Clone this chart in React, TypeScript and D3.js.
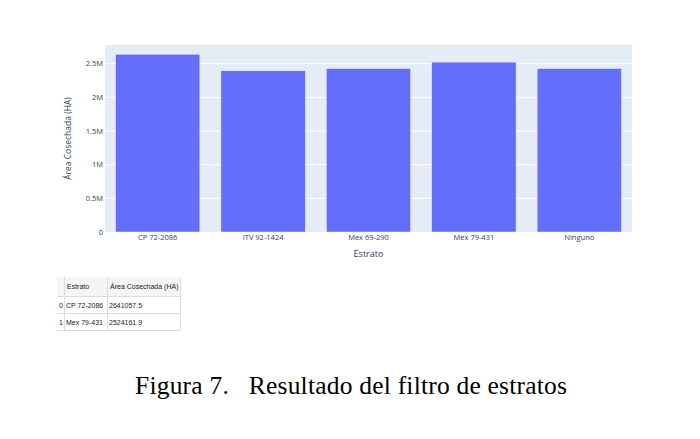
import React, { useEffect, useRef } from 'react';
import * as d3 from 'd3';

const categories = ['CP 72-2086', 'ITV 92-1424', 'Mex 69-290', 'Mex 79-431', 'Ninguno'];
const areaValues = [2641057.5, 2395000, 2428000, 2524161.9, 2428000];
const yTicks = [0, 500000, 1000000, 1500000, 2000000, 2500000];
const yTickLabels = ['0', '0.5M', '1M', '1.5M', '2M', '2.5M'];

const tableHeaders = ['', 'Estrato', 'Área Cosechada (HA)'];
const tableIndex = ['0', '1'];
const tableEstrato = ['CP 72-2086', 'Mex 79-431'];
const tableArea = ['2641057.5', '2524161.9'];

const App: React.FC = () => {
  const svgRef = useRef<SVGSVGElement>(null);

  useEffect(() => {
    if (!svgRef.current) return;
    const svg = d3.select(svgRef.current);
    svg.selectAll('*').remove();

    const font = '"Open Sans", verdana, arial, sans-serif';
    const left = 105, right = 632, top = 45, bottom = 232;

    const x = d3.scaleBand<string>()
      .domain(categories)
      .range([left, right])
      .paddingInner(0.2)
      .paddingOuter(0.1);

    const yMax = d3.max(areaValues)! * 1.052;
    const y = d3.scaleLinear().domain([0, yMax]).range([bottom, top]);

    // plot background
    svg.append('rect')
      .attr('x', left).attr('y', top)
      .attr('width', right - left).attr('height', bottom - top)
      .attr('fill', '#e5ecf6');

    // gridlines
    svg.append('g').selectAll('line')
      .data(yTicks.slice(1))
      .enter().append('line')
      .attr('x1', left).attr('x2', right)
      .attr('y1', d => y(d)).attr('y2', d => y(d))
      .attr('stroke', '#fff').attr('stroke-width', 1);

    // bars
    svg.append('g').selectAll('rect')
      .data(areaValues)
      .enter().append('rect')
      .attr('x', (_, i) => x(categories[i])!)
      .attr('width', x.bandwidth())
      .attr('y', d => y(d))
      .attr('height', d => bottom - y(d))
      .attr('fill', '#636efa')
      .attr('stroke', '#e5ecf6')
      .attr('stroke-width', 0.5);

    // y tick labels
    svg.append('g').selectAll('text')
      .data(yTicks)
      .enter().append('text')
      .attr('x', left - 2)
      .attr('y', d => y(d))
      .attr('dy', '0.35em')
      .attr('text-anchor', 'end')
      .attr('font-family', font)
      .attr('font-size', 7.5)
      .attr('fill', '#2a3f5f')
      .text((_, i) => yTickLabels[i]);

    // x tick labels
    svg.append('g').selectAll('text')
      .data(categories)
      .enter().append('text')
      .attr('x', d => x(d)! + x.bandwidth() / 2)
      .attr('y', 240)
      .attr('text-anchor', 'middle')
      .attr('font-family', font)
      .attr('font-size', 7.5)
      .attr('fill', '#2a3f5f')
      .text(d => d);

    // axis titles
    svg.append('text')
      .attr('x', (left + right) / 2)
      .attr('y', 257)
      .attr('text-anchor', 'middle')
      .attr('font-family', font)
      .attr('font-size', 9)
      .attr('fill', '#2a3f5f')
      .text('Estrato');

    svg.append('text')
      .attr('transform', `translate(71, ${(top + bottom) / 2}) rotate(-90)`)
      .attr('text-anchor', 'middle')
      .attr('font-family', font)
      .attr('font-size', 8.5)
      .attr('fill', '#2a3f5f')
      .text('Área Cosechada (HA)');

    // table
    const colX = [57, 64, 107, 180];
    const rowY = [277, 296, 313, 330];
    const tbl = svg.append('g');
    tbl.append('rect')
      .attr('x', colX[0]).attr('y', rowY[0])
      .attr('width', colX[3] - colX[0]).attr('height', rowY[1] - rowY[0])
      .attr('fill', '#f5f5f5');
    rowY.slice(1).forEach(ry => {
      tbl.append('line')
        .attr('x1', colX[0]).attr('x2', colX[3])
        .attr('y1', ry + 0.5).attr('y2', ry + 0.5)
        .attr('stroke', '#dcdcdc');
    });
    [colX[1], colX[2], colX[3]].forEach(cx => {
      tbl.append('line')
        .attr('x1', cx + 0.5).attr('x2', cx + 0.5)
        .attr('y1', rowY[0]).attr('y2', rowY[3])
        .attr('stroke', '#dcdcdc');
    });
    const cellText = (tx: number, ty: number, s: string) =>
      tbl.append('text')
        .attr('x', tx).attr('y', ty)
        .attr('font-family', '"Liberation Sans", Arial, sans-serif')
        .attr('font-size', 7)
        .attr('fill', '#222')
        .text(s);
    tableHeaders.forEach((h, i) => cellText(colX[i] + 3, rowY[0] + 12, h));
    tableIndex.forEach((v, r) => {
      cellText(colX[0] + 2, rowY[r + 1] + 11.5, v);
      cellText(colX[1] + 2, rowY[r + 1] + 11.5, tableEstrato[r]);
      cellText(colX[2] + 2, rowY[r + 1] + 11.5, tableArea[r]);
    });

    // caption
    svg.append('text')
      .attr('x', 135)
      .attr('y', 394)
      .attr('font-family', '"Liberation Serif", "Times New Roman", serif')
      .attr('font-size', 25.5)
      .attr('fill', '#000')
      .attr('textLength', 432)
      .attr('lengthAdjust', 'spacing')
      .attr('xml:space', 'preserve')
      .style('white-space', 'pre')
      .text('Figura 7.   Resultado del filtro de estratos');
  }, []);

  return (
    <svg
      ref={svgRef}
      width={700}
      height={439}
      style={{ position: 'absolute', left: 0, top: 0, background: '#fff' }}
    />
  );
};

export default App;
